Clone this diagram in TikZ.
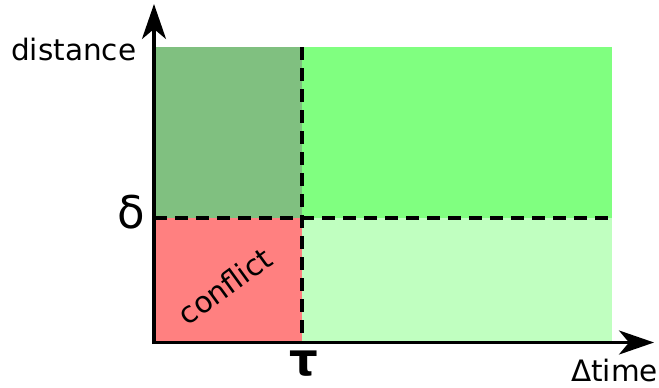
\documentclass[tikz,border=0pt]{standalone}
\usepackage{fontspec}
\setmainfont{DejaVu Sans}
\usetikzlibrary{arrows.meta}
\definecolor{darkgr}{HTML}{80C080}
\definecolor{brightgr}{HTML}{80FF80}
\definecolor{lightgr}{HTML}{C0FFC0}
\definecolor{redz}{HTML}{FF8080}
\begin{document}
\begin{tikzpicture}[x=1pt,y=-1pt,
  axis/.style={line width=3.3pt, -{Stealth[length=35pt,width=24pt,inset=10pt]}},
  divider/.style={line width=3.3pt, dash pattern=on 13pt off 8pt},
  lbl/.style={inner sep=0pt, font=\fontsize{29.5}{29.5}\selectfont}]
\useasboundingbox (0,0) rectangle (659,388);
% regions
\fill[darkgr] (155,47) rectangle (302,218);
\fill[brightgr] (302,47) rectangle (612,218);
\fill[redz] (155,218) rectangle (302,342);
\fill[lightgr] (302,218) rectangle (612,342);
% coordinates
\coordinate (o) at (154,344);
\coordinate (ytop) at (154,4);
\coordinate (xo) at (152,342.5);
\coordinate (xend) at (654,342.5);
\coordinate (tautop) at (302,47);
\coordinate (taubot) at (302,342);
\coordinate (dl) at (154,218);
\coordinate (dr) at (615,218);
% dividers
\draw[divider] (tautop) -- (taubot);
\draw[divider] (dl) -- (dr);
% axes
\draw[axis] (o) -- (ytop);
\draw[axis] (xo) -- (xend);
% labels
\node[lbl, anchor=base west] (dist) at (11,60) {distance};
\node[lbl, anchor=base west, text depth=0pt] (dtime) at (571,381) {Δtime};
\node[lbl, anchor=base, font=\fontsize{45}{45}\selectfont] (delta) at (131,228) {δ};
\node[lbl, anchor=base, font=\fontsize{45}{45}\selectfont\bfseries] (tau) at (304,375) {τ};
\node[lbl, rotate=36] (conf) at (225,286) {conflict};
\end{tikzpicture}
\end{document}
